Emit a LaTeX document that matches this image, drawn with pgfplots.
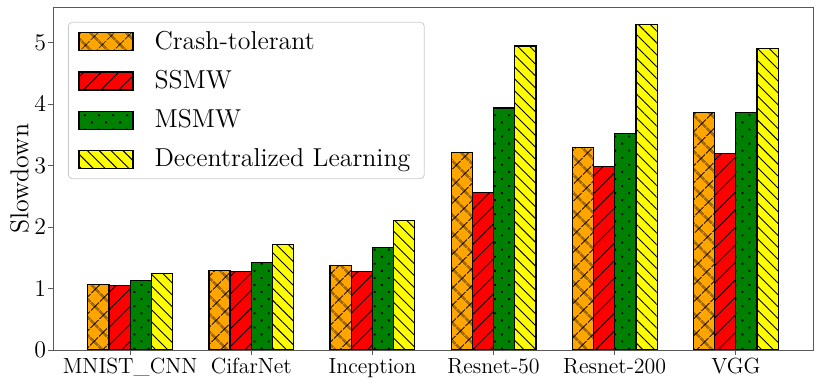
\documentclass[border=0pt]{standalone}
\usepackage{pgfplots}
\pgfplotsset{compat=1.18}
\usetikzlibrary{patterns.meta}

\definecolor{cOrange}{RGB}{255,165,0}
\definecolor{cRed}{RGB}{255,0,0}
\definecolor{cGreen}{RGB}{0,128,0}
\definecolor{cYellow}{RGB}{255,255,0}

\pgfplotsset{
  swatch/.style={legend image code/.code={\draw[##1, sharp corners] (0bp,-4.5bp) rectangle (27bp,4.5bp);}},
}

\begin{document}
\begin{tikzpicture}
\useasboundingbox (-26.5bp,-17bp) rectangle (384.5bp,175bp);
\begin{axis}[
  at={(0,0)}, anchor=south west,
  width=380bp, height=171.25bp, scale only axis,
  ybar=0pt, bar width=0.175,
  xmin=-0.637, xmax=5.637, ymin=0, ymax=5.575,
  xtick={0,1,2,3,4,5},
  xticklabels={MNIST\_CNN,CifarNet,Inception,Resnet-50,Resnet-200,VGG},
  ytick={0,1,2,3,4,5},
  tick align=outside, tick pos=left, major tick length=2.5bp,
  axis line style={black!65, line width=0.5bp},
  every tick/.style={black!65, line width=0.5bp},
  xticklabel style={font=\fontsize{11}{13}\selectfont, inner ysep=1.5bp},
  yticklabel style={font=\fontsize{13}{15}\selectfont, inner xsep=0.8bp},
  ylabel={Slowdown},
  ylabel style={font=\fontsize{13}{15}\selectfont,
    at={(axis description cs:-0.0225,0.5)}, anchor=south},
  legend cell align=left,
  legend style={at={(0.0197,0.958)}, anchor=north west,
    draw=black!20, rounded corners=2bp, fill=white,
    font=\fontsize{13}{15}\selectfont,
    inner xsep=5bp, inner ysep=2.5bp, row sep=5bp,
    /tikz/every odd column/.append style={column sep=8.5bp}},
]
\addplot[swatch, fill=cOrange, draw=black, line width=0.6bp,
  postaction={pattern={Hatch[angle=45,distance=6bp,line width=0.45bp]}, pattern color=black}]
  coordinates {(0,1.07) (1,1.29) (2,1.37) (3,3.22) (4,3.30) (5,3.87)};
\addplot[swatch, fill=cRed, draw=black, line width=0.6bp,
  postaction={pattern={Lines[angle=45,distance=6.2bp,line width=0.45bp]}, pattern color=black}]
  coordinates {(0,1.05) (1,1.275) (2,1.28) (3,2.57) (4,2.985) (5,3.20)};
\addplot[swatch, fill=cGreen, draw=black, line width=0.6bp,
  postaction={pattern={Dots[angle=45,distance=5bp,radius=0.65bp]}, pattern color=black}]
  coordinates {(0,1.135) (1,1.43) (2,1.67) (3,3.94) (4,3.52) (5,3.87)};
\addplot[swatch, fill=cYellow, draw=black, line width=0.6bp,
  postaction={pattern={Lines[angle=-45,distance=4.2bp,line width=0.45bp]}, pattern color=black}]
  coordinates {(0,1.24) (1,1.715) (2,2.105) (3,4.95) (4,5.30) (5,4.91)};
\legend{Crash-tolerant,SSMW,MSMW,Decentralized Learning}
\end{axis}
\end{tikzpicture}
\end{document}
